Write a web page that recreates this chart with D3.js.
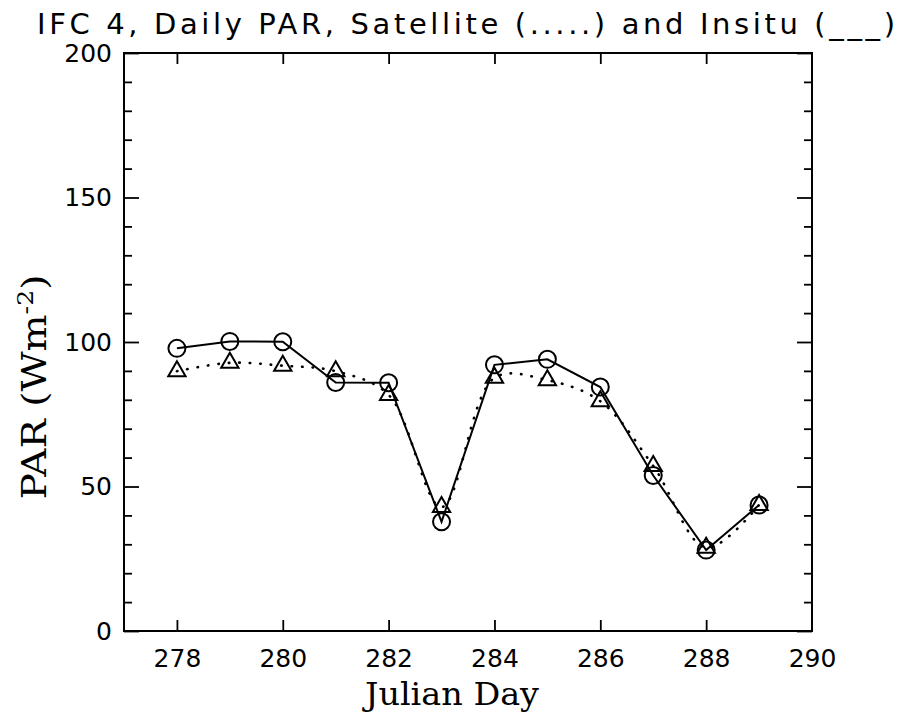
<!DOCTYPE html>
<html>
<head>
<meta charset="utf-8">
<script src="https://cdn.jsdelivr.net/npm/d3@7/dist/d3.min.js"></script>
<style>
  body { margin: 0; background: #fff; }
  svg { display: block; }
  .plotfont { font-family: "DejaVu Sans", sans-serif; }
</style>
</head>
<body>
<div id="chart"></div>
<script>
// values
const days = [278, 279, 280, 281, 282, 283, 284, 285, 286, 287, 288, 289];
const insitu = [97.8, 100.2, 100.1, 86.0, 85.9, 37.8, 92.1, 94.0, 84.4, 53.8, 28.0, 43.6];
const satellite = [89.9, 92.8, 91.8, 89.9, 81.7, 42.9, 87.6, 86.8, 79.5, 57.1, 28.8, 43.6];
const xTicks = [278, 280, 282, 284, 286, 288, 290];
const yTicks = [0, 50, 100, 150, 200];
const yMinor = d3.range(0, 201, 10);

const W = 898, H = 720;
const margin = { left: 124, right: 86, top: 53, bottom: 89 };

const svg = d3.select("#chart").append("svg")
  .attr("width", W)
  .attr("height", H);

const x = d3.scaleLinear().domain([277, 290]).range([margin.left, W - margin.right]);
const y = d3.scaleLinear().domain([0, 200]).range([H - margin.bottom, margin.top]);

// frame
svg.append("rect")
  .attr("x", x(277)).attr("y", y(200))
  .attr("width", x(290) - x(277)).attr("height", y(0) - y(200))
  .attr("fill", "none").attr("stroke", "#000").attr("stroke-width", 2);

function styleAxis(g) {
  g.select(".domain").remove();
  g.selectAll("line").attr("stroke", "#000").attr("stroke-width", 1.8);
  g.selectAll("text")
    .attr("class", "plotfont")
    .attr("font-size", 25)
    .attr("fill", "#000");
}

// bottom axis, ticks point inward
svg.append("g")
  .attr("transform", `translate(0,${y(0)})`)
  .call(d3.axisBottom(x).tickValues(xTicks.slice(0, -1)).tickSize(-11).tickPadding(18).tickFormat(d3.format("d")))
  .call(styleAxis);
// 290 sits on the right edge
svg.append("g")
  .attr("transform", `translate(0,${y(0)})`)
  .call(d3.axisBottom(x).tickValues([290]).tickSize(0).tickPadding(18).tickFormat(d3.format("d")))
  .call(styleAxis);

svg.append("g")
  .attr("transform", `translate(0,${y(200)})`)
  .call(d3.axisTop(x).tickValues(xTicks.slice(0, -1)).tickSize(-11).tickFormat(""))
  .call(styleAxis);

// left axis: major + minor
svg.append("g")
  .attr("transform", `translate(${x(277)},0)`)
  .call(d3.axisLeft(y).tickValues(yMinor.filter(v => v % 50 !== 0)).tickSize(-8).tickFormat(""))
  .call(styleAxis);
svg.append("g")
  .attr("transform", `translate(${x(277)},0)`)
  .call(d3.axisLeft(y).tickValues(yTicks).tickSize(-15).tickPadding(12).tickFormat(d3.format("d")))
  .call(styleAxis);

// right axis
svg.append("g")
  .attr("transform", `translate(${x(290)},0)`)
  .call(d3.axisRight(y).tickValues(yMinor.filter(v => v % 50 !== 0)).tickSize(-8).tickFormat(""))
  .call(styleAxis);
svg.append("g")
  .attr("transform", `translate(${x(290)},0)`)
  .call(d3.axisRight(y).tickValues(yTicks).tickSize(-15).tickFormat(""))
  .call(styleAxis);

// series
const insituPts = days.map((d, i) => [d, insitu[i]]);
const satPts = days.map((d, i) => [d, satellite[i]]);

const solid = d3.line().x(d => x(d[0])).y(d => y(d[1]));
const dotted = d3.line().x(d => x(d[0])).y(d => y(d[1])).curve(d3.curveCatmullRom.alpha(0.5));

svg.append("path")
  .datum(satPts)
  .attr("d", dotted)
  .attr("fill", "none")
  .attr("stroke", "#000")
  .attr("stroke-width", 2.6)
  .attr("stroke-linecap", "round")
  .attr("stroke-dasharray", "0.5,10");

svg.append("path")
  .datum(insituPts)
  .attr("d", solid)
  .attr("fill", "none")
  .attr("stroke", "#000")
  .attr("stroke-width", 2);

svg.append("g").selectAll("path")
  .data(satPts)
  .join("path")
  .attr("transform", d => `translate(${x(d[0])},${y(d[1])})`)
  .attr("d", d3.symbol(d3.symbolTriangle, 130))
  .attr("fill", "none")
  .attr("stroke", "#000")
  .attr("stroke-width", 2);

svg.append("g").selectAll("circle")
  .data(insituPts)
  .join("circle")
  .attr("cx", d => x(d[0]))
  .attr("cy", d => y(d[1]))
  .attr("r", 8.5)
  .attr("fill", "none")
  .attr("stroke", "#000")
  .attr("stroke-width", 2);

// titles
svg.append("text")
  .attr("class", "plotfont")
  .attr("x", 37).attr("y", 34)
  .attr("font-size", 29)
  .attr("textLength", 858)
  .attr("lengthAdjust", "spacing")
  .text("IFC 4, Daily PAR, Satellite (.....) and Insitu (___)");

svg.append("text")
  .attr("x", 452).attr("y", 705)
  .attr("text-anchor", "middle")
  .attr("font-family", "DejaVu Serif, serif")
  .attr("font-size", 32)
  .attr("textLength", 174)
  .attr("lengthAdjust", "spacingAndGlyphs")
  .text("Julian Day");

const yt = svg.append("text")
  .attr("transform", `translate(46,387) rotate(-90)`)
  .attr("text-anchor", "middle")
  .attr("font-family", "DejaVu Serif, serif")
  .attr("font-size", 34)
  .attr("textLength", 225)
  .attr("lengthAdjust", "spacingAndGlyphs");
yt.append("tspan").text("PAR (Wm");
yt.append("tspan").attr("font-size", 22).attr("dy", -13).text("-2");
yt.append("tspan").attr("dy", 13).text(")");
</script>
</body>
</html>
